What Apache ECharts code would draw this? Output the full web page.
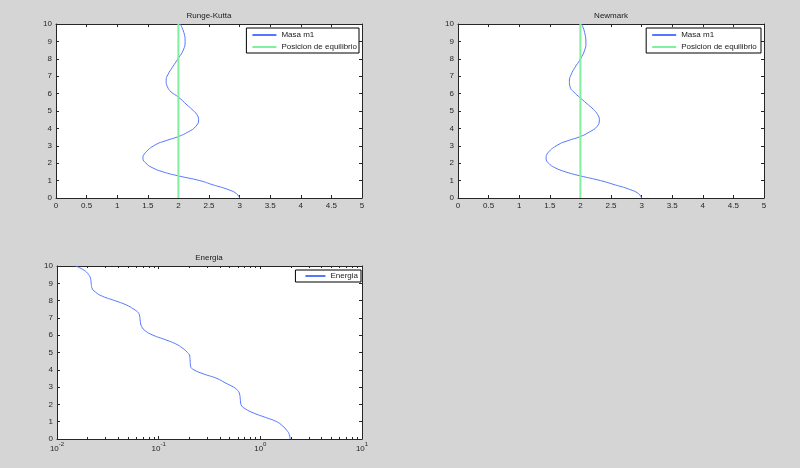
<!DOCTYPE html>
<html><head><meta charset="utf-8">
<script src="https://cdn.jsdelivr.net/npm/echarts@6/dist/echarts.min.js"></script>
<style>html,body{margin:0;padding:0;background:#d5d5d5}#c{width:800px;height:468px}</style>
</head><body><div id="c"></div>
<script>
// Runge-Kutta: time (vertical) and position of mass m1 (horizontal)
const rkTime = [0, 0.25, 0.5, 0.75, 1.0, 1.27, 1.5, 1.75, 2.0, 2.28, 2.6, 3.05, 3.3, 3.53, 3.8, 4.1, 4.49, 4.8, 5.1, 5.35, 5.8, 6.1, 6.4, 6.76, 7.1, 7.5, 8.04, 8.5, 9.0, 9.5, 10];
const rkPos  = [3.00, 2.95, 2.80, 2.57, 2.35, 2.00, 1.75, 1.57, 1.47, 1.42, 1.46, 1.62, 1.80, 2.00, 2.16, 2.28, 2.33, 2.30, 2.22, 2.14, 2.00, 1.88, 1.82, 1.80, 1.83, 1.90, 2.00, 2.08, 2.11, 2.09, 2.03];
// Newmark
const nmTime = [0, 0.25, 0.5, 0.75, 1.0, 1.27, 1.5, 1.75, 2.0, 2.28, 2.6, 3.05, 3.3, 3.53, 3.8, 4.1, 4.49, 4.8, 5.1, 5.35, 5.75, 6.1, 6.4, 6.72, 7.1, 7.5, 7.98, 8.5, 8.9, 9.5, 10];
const nmPos  = [3.00, 2.95, 2.80, 2.57, 2.33, 2.00, 1.76, 1.58, 1.48, 1.44, 1.47, 1.63, 1.80, 2.00, 2.15, 2.27, 2.31, 2.28, 2.21, 2.13, 2.00, 1.89, 1.83, 1.82, 1.85, 1.91, 2.00, 2.07, 2.09, 2.07, 2.02];
// Equilibrium position
const eqTime = [0, 10];
const eqPos = [2, 2];
// Energy (log scale)
const enTime  = [0, 0.25, 0.5, 0.75, 1.0, 1.25, 1.5, 1.75, 2.0, 2.3, 2.6, 2.8, 3.0, 3.25, 3.5, 3.75, 4.0, 4.2, 4.5, 4.8, 5.0, 5.25, 5.5, 5.75, 6.0, 6.25, 6.5, 6.8, 7.1, 7.3, 7.5, 7.75, 8.0, 8.25, 8.5, 8.75, 9.0, 9.3, 9.5, 9.75, 10];
const enValue = [1.96, 1.93, 1.82, 1.66, 1.45, 1.12, 0.86, 0.71, 0.645, 0.635, 0.625, 0.60, 0.545, 0.45, 0.375, 0.28, 0.222, 0.206, 0.204, 0.202, 0.192, 0.172, 0.147, 0.115, 0.088, 0.074, 0.068, 0.066, 0.065, 0.063, 0.057, 0.048, 0.037, 0.028, 0.0238, 0.0220, 0.0217, 0.0213, 0.0205, 0.0185, 0.0152];
// Axis ticks
const logMajor = [0.01, 0.1, 1, 10];
const logMinor = [0.02,0.03,0.04,0.05,0.06,0.07,0.08,0.09,0.2,0.3,0.4,0.5,0.6,0.7,0.8,0.9,2,3,4,5,6,7,8,9];

const FONT = "'Liberation Sans', Arial, sans-serif";
const AX = '#262626';
const BLUE = '#5577ff';
const GREEN = '#80f0a0';
const zip = (xs, ys) => xs.map((x, i) => [x, ys[i]]);

function linX(grid, pos, labels) {
  return { type: 'value', gridIndex: grid, position: pos, min: 0, max: 5, interval: 0.5,
    axisLine: { show: true, onZero: false, lineStyle: { color: AX, width: 1 } },
    axisTick: { show: true, inside: true, length: 3, lineStyle: { color: AX } },
    axisLabel: { show: labels, margin: 4, color: AX, fontSize: 8, fontFamily: FONT },
    splitLine: { show: false } };
}
function linY(grid, pos, labels) {
  return { type: 'value', gridIndex: grid, position: pos, min: 0, max: 10, interval: 1,
    axisLine: { show: true, onZero: false, lineStyle: { color: AX, width: 1 } },
    axisTick: { show: true, inside: true, length: 3, lineStyle: { color: AX } },
    axisLabel: { show: labels, margin: 4, color: AX, fontSize: 8, fontFamily: FONT },
    splitLine: { show: false } };
}
function logX(grid, pos, labels, minor) {
  return { type: 'log', logBase: 10, gridIndex: grid, position: pos, min: 0.01, max: 10,
    axisLine: { show: !minor, onZero: false, lineStyle: { color: AX, width: 1 } },
    axisTick: { show: true, inside: true, length: minor ? 2 : 3, customValues: minor ? logMinor : logMajor, lineStyle: { color: AX } },
    axisLabel: { show: labels, margin: 2, customValues: logMajor, color: AX, fontFamily: FONT,
      formatter: v => '{b|10}{s|' + Math.round(Math.log10(v)) + '}',
      rich: { b: { fontSize: 8, fontFamily: FONT, color: AX, lineHeight: 12, verticalAlign: 'bottom' },
              s: { fontSize: 6, fontFamily: FONT, color: AX, lineHeight: 12, verticalAlign: 'top' } } },
    splitLine: { show: false }, minorTick: { show: false } };
}
function legend(right, top, names, w, pad) {
  return { show: true, right: right, top: top, orient: 'vertical', data: names,
    backgroundColor: '#ffffff', borderColor: '#000', borderWidth: 1, borderRadius: 0,
    padding: pad, itemGap: 4, itemWidth: w, itemHeight: 8,
    itemStyle: { opacity: 0 },
    textStyle: { fontSize: 8, fontFamily: FONT, color: '#1a1a1a' } };
}
function title(text, x, y) {
  return { text: text, left: x, top: y, textAlign: 'center', padding: 0,
    textStyle: { fontSize: 8, fontWeight: 'normal', fontFamily: FONT, color: '#1a1a1a' } };
}

const option = {
  backgroundColor: '#d5d5d5',
  animation: false,
  title: [ title('Runge-Kutta', 209, 12), title('Newmark', 611, 12), title('Energia', 209, 254) ],
  grid: [
    { left: 56, top: 24, width: 306, height: 174, show: true, backgroundColor: '#fff', borderWidth: 0 },
    { left: 458, top: 24, width: 306, height: 174, show: true, backgroundColor: '#fff', borderWidth: 0 },
    { left: 57, top: 266, width: 305, height: 173, show: true, backgroundColor: '#fff', borderWidth: 0 }
  ],
  xAxis: [ linX(0, 'bottom', true), linX(0, 'top', false), linX(1, 'bottom', true), linX(1, 'top', false),
           logX(2, 'bottom', true, false), logX(2, 'top', false, false), logX(2, 'bottom', false, true), logX(2, 'top', false, true) ],
  yAxis: [ linY(0, 'left', true), linY(0, 'right', false), linY(1, 'left', true), linY(1, 'right', false),
           linY(2, 'left', true), linY(2, 'right', false) ],
  legend: [
    legend(441, 28, ['Masa m1', 'Posicion de equilibrio'], 24, [3, 2, 2, 5]),
    legend(39, 28, ['Masa m1 ', 'Posicion de equilibrio '], 24, [3, 2, 2, 5]),
    legend(439, 270, ['Energia'], 20, [2, 3, 2, 9])
  ],
  series: [
    { name: 'Masa m1', type: 'line', xAxisIndex: 0, yAxisIndex: 0, data: zip(rkPos, rkTime), smooth: 0.5, symbol: 'none', lineStyle: { color: BLUE, width: 1 }, itemStyle: { color: BLUE } },
    { name: 'Posicion de equilibrio', type: 'line', xAxisIndex: 0, yAxisIndex: 0, data: zip(eqPos, eqTime), symbol: 'none', lineStyle: { color: GREEN, width: 2 }, itemStyle: { color: GREEN } },
    { name: 'Masa m1 ', type: 'line', xAxisIndex: 2, yAxisIndex: 2, data: zip(nmPos, nmTime), smooth: 0.5, symbol: 'none', lineStyle: { color: BLUE, width: 1 }, itemStyle: { color: BLUE } },
    { name: 'Posicion de equilibrio ', type: 'line', xAxisIndex: 2, yAxisIndex: 2, data: zip(eqPos, eqTime), symbol: 'none', lineStyle: { color: GREEN, width: 2 }, itemStyle: { color: GREEN } },
    { name: 'Energia', type: 'line', xAxisIndex: 4, yAxisIndex: 4, data: zip(enValue, enTime), smooth: 0.5, symbol: 'none', lineStyle: { color: BLUE, width: 1 }, itemStyle: { color: BLUE } }
  ]
};
const chart = echarts.init(document.getElementById('c'), null, { renderer: 'canvas' });
chart.setOption(option);
</script>
</body></html>
